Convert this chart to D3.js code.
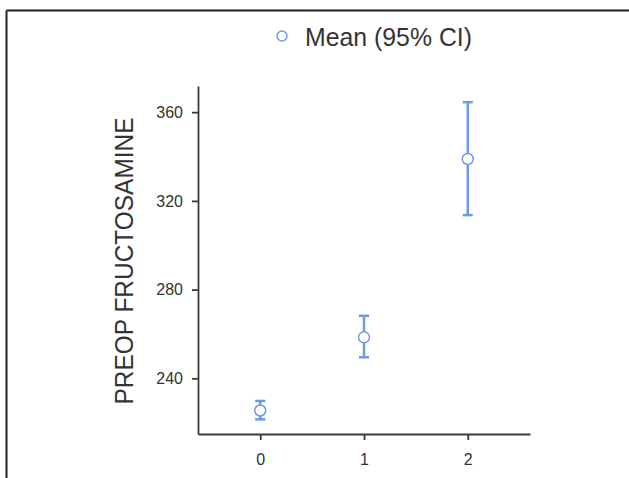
<!DOCTYPE html>
<html><head><meta charset="utf-8">
<script src="https://cdn.jsdelivr.net/npm/d3@7"></script>
<style>body{margin:0;background:#fff}svg{display:block}text{font-family:"Liberation Sans",Arial,sans-serif}</style>
</head><body>
<svg id="c" width="629" height="478"></svg>
<script>
const groups = [0, 1, 2];
const means = [225.5, 258.5, 338.9];
const lowerCI = [221.5, 249.5, 313.6];
const upperCI = [229.8, 268.2, 364.5];
const yTicks = [240, 280, 320, 360];
const xTicks = [0, 1, 2];
const yTitle = "PREOP FRUCTOSAMINE";
const legendLabel = "Mean (95% CI)";

const svg = d3.select("#c");
const blue = "#6d9ae8";
const axisCol = "#3a3a3a";

// frame lines
svg.append("line").attr("x1",6.5).attr("x2",629).attr("y1",10.5).attr("y2",10.5).attr("stroke","#222").attr("stroke-width",2);
svg.append("line").attr("x1",6.5).attr("x2",6.5).attr("y1",10.5).attr("y2",478).attr("stroke","#222").attr("stroke-width",2);

const x = d3.scaleLinear().domain([-0.6, 2.6]).range([198, 530]);
const y = d3.scaleLinear().domain([214.9, 371.8]).range([434, 86]);

const yAxis = svg.append("g").attr("transform","translate(198,0)")
  .call(d3.axisLeft(y).tickValues(yTicks).tickFormat(d3.format("d")).tickSize(6).tickPadding(9).tickSizeOuter(0));
const xAxis = svg.append("g").attr("transform","translate(0,434)")
  .call(d3.axisBottom(x).tickValues(xTicks).tickFormat(d3.format("d")).tickSize(6).tickPadding(14).tickSizeOuter(0));
[yAxis, xAxis].forEach(g => {
  g.select(".domain").attr("stroke", axisCol).attr("stroke-width", 1.8);
  g.selectAll(".tick line").attr("stroke", axisCol).attr("stroke-width", 1.8);
  g.selectAll(".tick text").attr("fill","#333").style("font-size","16px").style("font-family","'Liberation Sans',Arial,sans-serif");
});

svg.append("text")
  .attr("transform","translate(133,261) rotate(-90)")
  .attr("text-anchor","middle")
  .attr("fill","#333")
  .style("font-size","25px")
  .attr("textLength", 287).attr("lengthAdjust","spacingAndGlyphs")
  .text(yTitle);

const data = groups.map((g,i) => ({g, m: means[i], lo: lowerCI[i], hi: upperCI[i]}));
const eb = svg.append("g");
eb.selectAll(".v").data(data).join("line")
  .attr("x1", d => x(d.g)).attr("x2", d => x(d.g))
  .attr("y1", d => y(d.lo)).attr("y2", d => y(d.hi))
  .attr("stroke", blue).attr("stroke-width", 2.5);
eb.selectAll(".ct").data(data).join("line")
  .attr("x1", d => x(d.g)-5).attr("x2", d => x(d.g)+5)
  .attr("y1", d => y(d.hi)).attr("y2", d => y(d.hi))
  .attr("stroke", blue).attr("stroke-width", 2.5);
eb.selectAll(".cb").data(data).join("line")
  .attr("x1", d => x(d.g)-5).attr("x2", d => x(d.g)+5)
  .attr("y1", d => y(d.lo)).attr("y2", d => y(d.lo))
  .attr("stroke", blue).attr("stroke-width", 2.5);
eb.selectAll("circle").data(data).join("circle")
  .attr("cx", d => x(d.g)).attr("cy", d => y(d.m)).attr("r", 5.5)
  .attr("fill","#fff").attr("stroke", blue).attr("stroke-width", 1.5);

// legend
svg.append("circle").attr("cx",282).attr("cy",36).attr("r",5).attr("fill","#fff").attr("stroke",blue).attr("stroke-width",1.5);
svg.append("text").attr("x",305).attr("y",46).attr("fill","#333")
  .style("font-size","25px").attr("textLength",167).attr("lengthAdjust","spacingAndGlyphs")
  .text(legendLabel);
</script>
</body></html>
